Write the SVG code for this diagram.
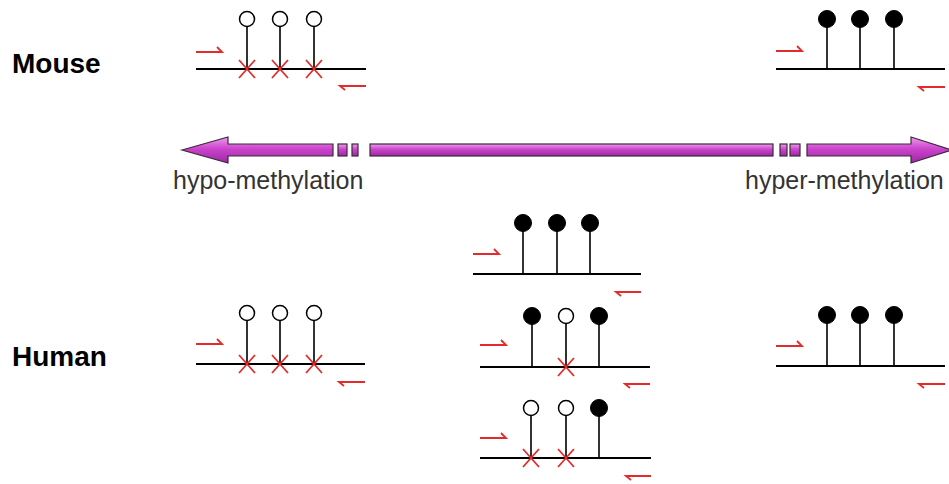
<svg xmlns="http://www.w3.org/2000/svg" width="949" height="484" viewBox="0 0 949 484">
<style>
.dna{stroke:#000;stroke-width:1.8;fill:none}
.stem{stroke:#000;stroke-width:1.6;fill:none}
.open{fill:#fff;stroke:#000;stroke-width:1.5}
.full{fill:#000;stroke:#000;stroke-width:1}
.x{stroke:#e32b2b;stroke-width:1.8;fill:none}
.pr{stroke:#e32b2b;stroke-width:1.8;fill:none}
.lbl{font-family:"Liberation Sans",Arial,sans-serif;font-weight:bold;font-size:28px;fill:#000}
.ax{font-family:"Liberation Sans",Arial,sans-serif;font-size:25px;fill:#333}
.arr{fill:url(#g);stroke:#3a2a3a;stroke-width:1.2}
</style>
<defs>
<linearGradient id="g" x1="0" y1="0" x2="0" y2="1">
<stop offset="0" stop-color="#ee9aee"/>
<stop offset="0.45" stop-color="#cc44cc"/>
<stop offset="1" stop-color="#9a2aa0"/>
</linearGradient>
<path id="xm" class="x" d="M-8,-9 L8,9 M-8,9 L8,-9"/>
</defs>

<g id="labels">
<text class="lbl" x="12" y="73">Mouse</text>
<text class="lbl" x="12" y="366">Human</text>
</g>

<g id="axis">
<path class="arr" d="M182,150 L228,137 L228,144 L333,144 L333,156 L228,156 L228,163 Z"/>
<rect class="arr" x="338" y="144" width="9" height="12"/>
<rect class="arr" x="352" y="144" width="6" height="12"/>
<rect class="arr" x="370" y="144" width="403" height="12"/>
<rect class="arr" x="780" y="144" width="7" height="12"/>
<rect class="arr" x="790" y="144" width="10" height="12"/>
<path class="arr" d="M807,144 L911,144 L911,137 L952,150 L911,163 L911,156 L807,156 Z"/>
<text class="ax" x="173" y="189">hypo-methylation</text>
<text class="ax" x="745" y="189">hyper-methylation</text>
</g>

<g id="mouse-hypo" transform="translate(196,69)">
<line class="dna" x1="0" y1="0" x2="170" y2="0"/>
<path class="stem" d="M51,-42 V0 M84,-42 V0 M118,-42 V0"/>
<circle class="open" cx="51" cy="-50" r="7.5"/>
<circle class="open" cx="84" cy="-50" r="7.5"/>
<circle class="open" cx="118" cy="-50" r="7.5"/>
<use href="#xm" x="51" y="0"/><use href="#xm" x="84" y="0"/><use href="#xm" x="118" y="0"/>
<path class="pr" d="M0,-17 H26 L21,-22"/>
<path class="pr" d="M170,17 H144 L149,21"/>
</g>

<g id="mouse-hyper" transform="translate(776,69)">
<line class="dna" x1="0" y1="0" x2="169" y2="0"/>
<path class="stem" d="M51,-43 V0 M84,-43 V0 M118,-43 V0"/>
<circle class="full" cx="51" cy="-50" r="8.5"/>
<circle class="full" cx="84" cy="-50" r="8.5"/>
<circle class="full" cx="118" cy="-50" r="8.5"/>
<path class="pr" d="M0,-18 H26 L21,-23"/>
<path class="pr" d="M169,18 H143 L148,22"/>
</g>

<g id="human-hypo" transform="translate(196,364)">
<line class="dna" x1="0" y1="0" x2="169" y2="0"/>
<path class="stem" d="M51,-43 V0 M84,-43 V0 M118,-43 V0"/>
<circle class="open" cx="51" cy="-51" r="7.5"/>
<circle class="open" cx="84" cy="-51" r="7.5"/>
<circle class="open" cx="118" cy="-51" r="7.5"/>
<use href="#xm" x="51" y="0"/><use href="#xm" x="84" y="0"/><use href="#xm" x="118" y="0"/>
<path class="pr" d="M0,-20 H26 L21,-25"/>
<path class="pr" d="M169,18 H143 L148,22"/>
</g>

<g id="human-full" transform="translate(473,274)">
<line class="dna" x1="0" y1="0" x2="168" y2="0"/>
<path class="stem" d="M50,-43 V0 M84,-43 V0 M117,-43 V0"/>
<circle class="full" cx="50" cy="-51" r="8.5"/>
<circle class="full" cx="84" cy="-51" r="8.5"/>
<circle class="full" cx="117" cy="-51" r="8.5"/>
<path class="pr" d="M0,-20 H26 L21,-25"/>
<path class="pr" d="M168,18 H143 L148,22"/>
</g>

<g id="human-partial1" transform="translate(480,367)">
<line class="dna" x1="0" y1="0" x2="170" y2="0"/>
<path class="stem" d="M52,-43 V0 M86,-43 V0 M119,-43 V0"/>
<circle class="full" cx="52" cy="-51" r="8.5"/>
<circle class="open" cx="86" cy="-51" r="7.5"/>
<circle class="full" cx="119" cy="-51" r="8.5"/>
<use href="#xm" x="86" y="0"/>
<path class="pr" d="M0,-22 H26 L21,-27"/>
<path class="pr" d="M170,17 H145 L150,21"/>
</g>

<g id="human-partial2" transform="translate(480,458)">
<line class="dna" x1="0" y1="0" x2="171" y2="0"/>
<path class="stem" d="M51,-42 V0 M86,-42 V0 M119,-42 V0"/>
<circle class="open" cx="51" cy="-50" r="7.5"/>
<circle class="open" cx="86" cy="-50" r="7.5"/>
<circle class="full" cx="119" cy="-50" r="8.5"/>
<use href="#xm" x="51" y="0"/><use href="#xm" x="86" y="0"/>
<path class="pr" d="M0,-20 H26 L21,-25"/>
<path class="pr" d="M171,18 H146 L151,22"/>
</g>

<g id="human-hyper" transform="translate(776,366)">
<line class="dna" x1="0" y1="0" x2="169" y2="0"/>
<path class="stem" d="M51,-43 V0 M84,-43 V0 M118,-43 V0"/>
<circle class="full" cx="51" cy="-51" r="8.5"/>
<circle class="full" cx="84" cy="-51" r="8.5"/>
<circle class="full" cx="118" cy="-51" r="8.5"/>
<path class="pr" d="M0,-20 H26 L21,-25"/>
<path class="pr" d="M169,18 H143 L148,22"/>
</g>
</svg>
